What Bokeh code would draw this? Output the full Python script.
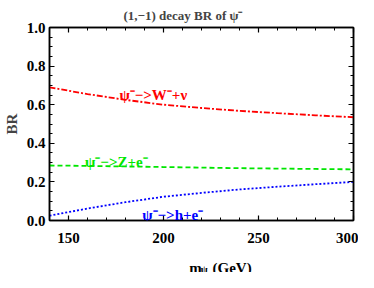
from bokeh.plotting import figure
from bokeh.models import Range1d, LinearAxis, Label, FixedTicker, PrintfTickFormatter
from bokeh.layouts import column
from bokeh.embed import file_html
from bokeh.resources import INLINE

m_psi = [140, 160, 180, 200, 220, 240, 260, 280, 300]
br_W = [0.690, 0.655, 0.625, 0.600, 0.583, 0.568, 0.556, 0.545, 0.535]
br_Z = [0.285, 0.283, 0.280, 0.277, 0.274, 0.271, 0.269, 0.267, 0.265]
br_h = [0.025, 0.062, 0.095, 0.123, 0.143, 0.161, 0.175, 0.188, 0.200]

x_ticks = [150, 200, 250, 300]
x_minor = list(range(140, 301, 10))
y_ticks = [0.0, 0.2, 0.4, 0.6, 0.8, 1.0]
y_minor = [i * 0.05 for i in range(21)]

FONT = "Liberation Serif"

p = figure(width=358, height=252, output_backend="svg", toolbar_location=None,
           x_range=Range1d(140, 300), y_range=Range1d(0, 1),
           min_border_left=46, min_border_right=5, min_border_top=27, min_border_bottom=32)
p.grid.visible = False
p.outline_line_color = "black"
p.outline_line_width = 1.5

p.title.text = "(1,\u22121) decay BR of \u03c8\u207b"
p.title.align = "left"
p.title.offset = 74
p.title.text_font = FONT
p.title.text_font_style = "bold"
p.title.text_font_size = "13px"

def style_axis(ax, ticks, minor, labels=True):
    ax.ticker = FixedTicker(ticks=ticks, minor_ticks=minor)
    ax.major_tick_in = 5
    ax.major_tick_out = 0
    ax.minor_tick_in = 3
    ax.minor_tick_out = 0
    ax.axis_line_width = 1.5
    ax.major_tick_line_width = 1.2
    ax.minor_tick_line_width = 1
    ax.major_label_text_font = FONT
    ax.major_label_text_font_style = "bold"
    ax.major_label_text_font_size = "15px"
    ax.major_label_text_color = "black"
    if not labels:
        ax.major_label_overrides = {t: "" for t in ticks}
        ax.major_label_standoff = 0

style_axis(p.xaxis[0], x_ticks, x_minor)
style_axis(p.yaxis[0], y_ticks, y_minor)
p.yaxis[0].formatter = PrintfTickFormatter(format="%.1f")
p.xaxis[0].major_label_standoff = 12
p.yaxis[0].major_label_standoff = 4

p.yaxis[0].axis_label = "BR"
p.yaxis[0].axis_label_text_font = FONT
p.yaxis[0].axis_label_text_font_style = "bold"
p.yaxis[0].axis_label_text_font_size = "15px"
p.yaxis[0].axis_label_standoff = 4

top = LinearAxis()
style_axis(top, x_ticks, x_minor, labels=False)
p.add_layout(top, "above")
right = LinearAxis()
style_axis(right, y_ticks, y_minor, labels=False)
p.add_layout(right, "right")

p.line(m_psi, br_W, line_color="#ff0000", line_width=1.8, line_dash="6 2 2 2")
p.line(m_psi, br_Z, line_color="#00e600", line_width=1.8, line_dash="5 3")
p.line(m_psi, br_h, line_color="#0000ff", line_width=1.8, line_dash="2 2")

def lab(fig, x, y, text, color, size="15px", align="left"):
    fig.add_layout(Label(x=x, y=y, text=text, text_color=color, text_font=FONT,
                         text_font_style="bold", text_font_size=size,
                         text_align=align, text_baseline="alphabetic"))

lab(p, 176.8, 0.648, "\u03c8\u207b\u2212>W\u207b+\u03bd", "#ff0000")
lab(p, 158.7, 0.305, "\u03c8\u207b\u2212>Z+e\u207b", "#00e600")
lab(p, 188.8, 0.031, "\u03c8\u207b\u2212>h+e\u207b", "#0000ff")

# x-axis label strip (pixel-like ranges) with subscript
q = figure(width=358, height=20, output_backend="svg", toolbar_location=None,
           title=None, x_range=Range1d(0, 358), y_range=Range1d(0, 20),
           min_border=0, min_border_left=0, min_border_right=0,
           min_border_top=0, min_border_bottom=0)
q.axis.visible = False
q.grid.visible = False
q.outline_line_color = None
lab(q, 164.5, 5, "m", "black")
lab(q, 178, 2.6, "\u03c8", "black", size="10px")
lab(q, 192, 5, "(GeV)", "black")

open("out.html", "w").write(file_html(column(p, q, spacing=0), INLINE))
